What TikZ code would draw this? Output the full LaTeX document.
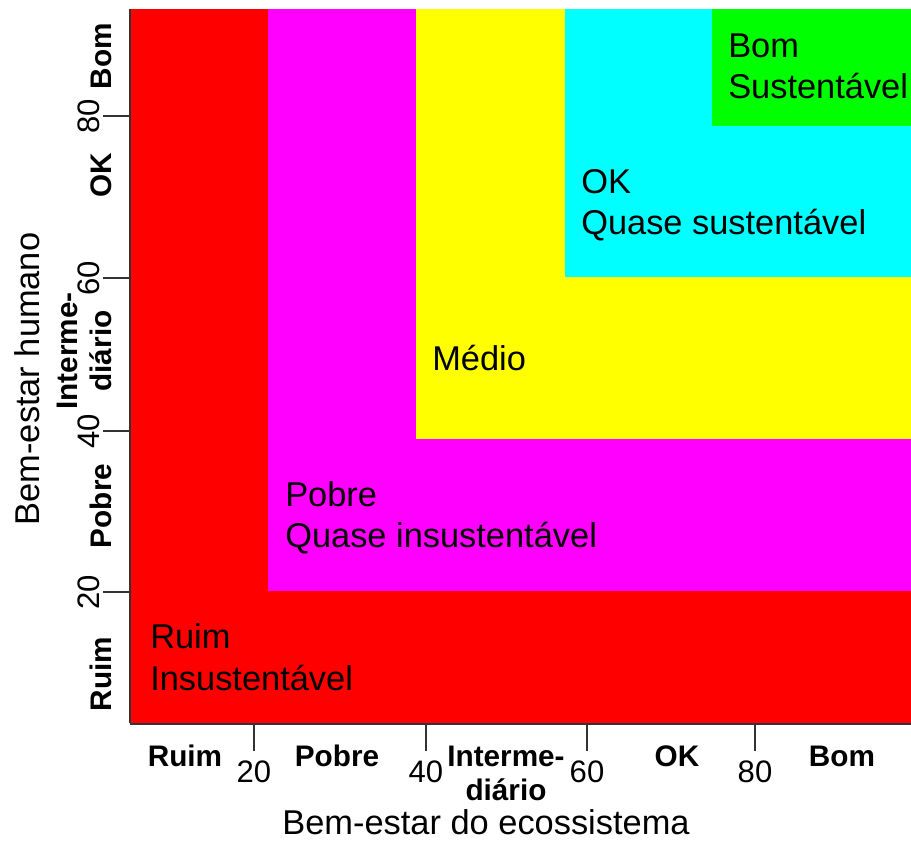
\documentclass[tikz,border=0pt]{standalone}
\usepackage{fontspec}
\setmainfont{Liberation Sans}
\usepackage{xcolor}
\definecolor{ruim}{RGB}{255,0,0}
\definecolor{pobre}{RGB}{255,0,255}
\definecolor{medio}{RGB}{255,255,0}
\definecolor{okcor}{RGB}{0,255,255}
\definecolor{bom}{RGB}{0,255,0}

\begin{document}
\begin{tikzpicture}[x=.75pt, y=-.75pt,
  eixo/.style={black!80, line width=1.1pt},
  zona/.style={anchor=base west, align=left, inner sep=0, font=\fontsize{25.8}{31}\selectfont},
  cat/.style={anchor=base, align=center, inner sep=0, font=\bfseries\fontsize{22.3}{25.5}\selectfont},
  num/.style={anchor=base, inner sep=0, font=\fontsize{23.3}{26}\selectfont},
  titulo/.style={anchor=base, inner sep=0, font=\fontsize{25.8}{30}\selectfont}]
\useasboundingbox (0,0) rectangle (911,841);
\fill[ruim] (131,9) rectangle (911,723);
\fill[pobre] (268,9) rectangle (911,591);
\fill[medio] (416,9) rectangle (911,439);
\fill[okcor] (565,9) rectangle (911,277);
\fill[bom] (712,9) rectangle (911,126);
\draw[eixo] (130,9)--(130,723);
\draw[eixo] (130,724)--(911,724);
\foreach \x/\v in {254/20,426/40,587/60,755/80} {
 \draw[eixo] (\x,724) --++(0,27);
 \node[num] (nx\v) at (\x,782) {\v};
}
\foreach \y/\v in {116/80,278/60,431/40,592/20} {
 \draw[eixo] (130,\y) --++(-27,0);
 \node[num, rotate=90] (ny\v) at (99,\y) {\v};
}
\node[cat] (xruim) at (185,766) {Ruim};
\node[cat] (xpobre) at (337,766) {Pobre};
\node[cat] (xmedio) at (506,800) {Interme-\\diário};
\node[cat] (xok) at (677,766) {OK};
\node[cat] (xbom) at (842,766) {Bom};
\node[cat, rotate=90] (yruim) at (111,674) {Ruim};
\node[cat, rotate=90] (ypobre) at (111,506) {Pobre};
\node[cat, rotate=90] (ymedio) at (111,351) {Interme-\\diário};
\node[cat, rotate=90] (yok) at (111,175) {OK};
\node[cat, rotate=90] (ybom) at (111,56) {Bom};
\node[titulo] (xtitulo) at (486,834) {Bem-estar do ecossistema};
\node[titulo, rotate=90] (ytitulo) at (40,379) {Bem-estar humano};
\node[zona] (zruim) at (150,690) {Ruim\\Insustentável};
\node[zona] (zpobre) at (285,548) {Pobre\\Quase insustentável};
\node[zona] (zmedio) at (432,371) {Médio};
\node[zona] (zok) at (581,235) {OK\\Quase sustentável};
\node[zona] (zbom) at (728,99) {Bom\\Sustentável};
\end{tikzpicture}
\end{document}
